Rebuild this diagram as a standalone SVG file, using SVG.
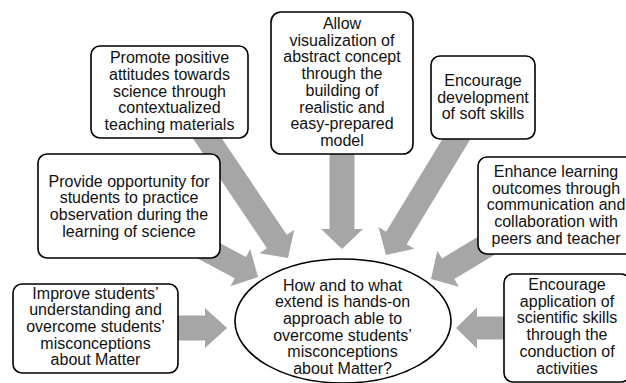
<svg xmlns="http://www.w3.org/2000/svg" width="626" height="383" viewBox="0 0 626 383">
<style>
.box{fill:#fff;stroke:#000;stroke-width:1.6}
.arr{fill:#a6a6a6;stroke:none}
text{font-family:"Liberation Sans",Arial,sans-serif;font-size:16px;fill:#111;text-anchor:middle}
</style>
<rect width="626" height="383" fill="#fff"/>
<g id="connectors">
<polygon class="arr" transform="translate(342,249) rotate(90)" points="0,0 -20,-21 -20,-12.5 -100,-12.5 -100,12.5 -20,12.5 -20,21"/>
<polygon class="arr" transform="translate(386,255) rotate(121.3)" points="0,0 -20,-21 -20,-12 -145,-12 -145,12 -20,12 -20,21"/>
<polygon class="arr" transform="translate(288,258) rotate(56)" points="0,0 -20,-21 -20,-12 -160,-12 -160,12 -20,12 -20,21"/>
<polygon class="arr" transform="translate(258,277) rotate(28)" points="0,0 -20,-21 -20,-12 -80,-12 -80,12 -20,12 -20,21"/>
<polygon class="arr" transform="translate(227,328) rotate(0)" points="0,0 -22,-20 -22,-12.5 -60,-12.5 -60,12.5 -22,12.5 -22,20"/>
<polygon class="arr" transform="translate(456,328) rotate(180)" points="0,0 -21,-20.5 -21,-11.5 -60,-11.5 -60,11.5 -21,11.5 -21,20.5"/>
<polygon class="arr" transform="translate(431,279) rotate(149)" points="0,0 -20,-21 -20,-12 -75,-12 -75,12 -20,12 -20,21"/>
</g>
<g id="node-promote">
<rect class="box" x="91" y="46" width="157" height="92" rx="9"/>
<text x="169.5" y="63.3">Promote positive</text>
<text x="169.5" y="80">attitudes towards</text>
<text x="169.5" y="96.7">science through</text>
<text x="169.5" y="113.4">contextualized</text>
<text x="169.5" y="130.1">teaching materials</text>
</g>
<g id="node-allow">
<rect class="box" x="271" y="12" width="142" height="142" rx="10"/>
<text x="342" y="29">Allow</text>
<text x="342" y="45.7">visualization of</text>
<text x="342" y="62.4">abstract concept</text>
<text x="342" y="79.1">through the</text>
<text x="342" y="95.8">building of</text>
<text x="342" y="112.5">realistic and</text>
<text x="342" y="129.2">easy-prepared</text>
<text x="342" y="145.9">model</text>
</g>
<g id="node-soft">
<rect class="box" x="431" y="56" width="104" height="83" rx="9"/>
<text x="483" y="86">Encourage</text>
<text x="483" y="102.7">development</text>
<text x="483" y="119.4">of soft skills</text>
</g>
<g id="node-enhance">
<rect class="box" x="478" y="157" width="156" height="97" rx="9"/>
<text x="556" y="177">Enhance learning</text>
<text x="556" y="193.7">outcomes through</text>
<text x="556" y="210.4">communication and</text>
<text x="556" y="227.1">collaboration with</text>
<text x="556" y="243.8">peers and teacher</text>
</g>
<g id="node-provide">
<rect class="box" x="38" y="154" width="182" height="104" rx="9"/>
<text x="129" y="186.5">Provide opportunity for</text>
<text x="129" y="203.2">students to practice</text>
<text x="129" y="219.9">observation during the</text>
<text x="129" y="236.6">learning of science</text>
</g>
<g id="node-improve">
<rect class="box" x="13" y="284" width="165" height="89" rx="9"/>
<text x="95.5" y="298.5">Improve students’</text>
<text x="95.5" y="315.2">understanding and</text>
<text x="95.5" y="331.9">overcome students’</text>
<text x="95.5" y="348.6">misconceptions</text>
<text x="95.5" y="365.3">about Matter</text>
</g>
<g id="node-apply">
<rect class="box" x="504" y="274" width="126" height="108" rx="9"/>
<text x="567" y="290">Encourage</text>
<text x="567" y="306.7">application of</text>
<text x="567" y="323.4">scientific skills</text>
<text x="567" y="340.1">through the</text>
<text x="567" y="356.8">conduction of</text>
<text x="567" y="373.5">activities</text>
</g>
<g id="node-center">
<ellipse class="box" cx="343" cy="321" rx="108" ry="62"/>
<text x="342.5" y="290.5">How and to what</text>
<text x="342.5" y="307.2">extend is hands-on</text>
<text x="342.5" y="323.9">approach able to</text>
<text x="342.5" y="340.6">overcome students’</text>
<text x="342.5" y="357.3">misconceptions</text>
<text x="342.5" y="374">about Matter?</text>
</g>
</svg>
